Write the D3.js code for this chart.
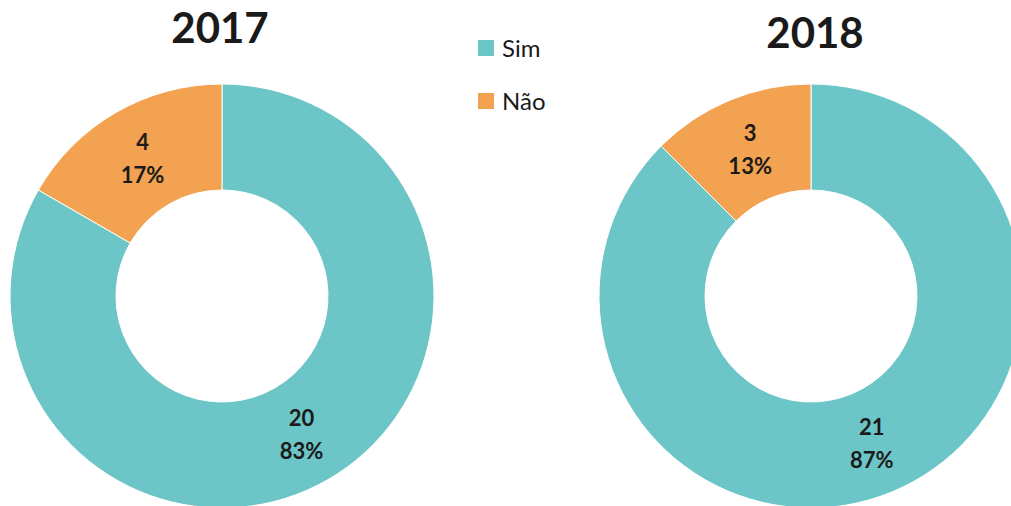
<!DOCTYPE html>
<html>
<head>
<meta charset="utf-8">
<script src="https://cdn.jsdelivr.net/npm/d3@7"></script>
<style>
  body { margin: 0; background: #fff; }
  svg { display: block; font-family: Lato, "Open Sans", sans-serif; }
</style>
</head>
<body>
<svg id="chart" width="1011" height="506"></svg>
<script>
const categories = ["Sim", "Não"];
const colors = ["#6cc5c6", "#f2a250"];
const years = ["2017", "2018"];
const values2017 = [20, 4];
const values2018 = [21, 3];
// percentages as printed on the chart
const pct2017 = ["83%", "17%"];
const pct2018 = ["87%", "13%"];

const svg = d3.select("#chart");
const outerR = 212, innerR = 106;
const charts = [
  { title: years[0], values: values2017, pct: pct2017, cx: 222, cy: 296, tx: 220, ty: 43 },
  { title: years[1], values: values2018, pct: pct2018, cx: 811, cy: 296, tx: 815, ty: 48 }
];

const pie = d3.pie().sort(null).value(d => d);
const arc = d3.arc().innerRadius(innerR).outerRadius(outerR);

charts.forEach(c => {
  const g = svg.append("g").attr("transform", `translate(${c.cx}, ${c.cy})`);
  const arcs = pie(c.values);

  g.selectAll("path")
    .data(arcs)
    .enter()
      .append("path")
      .attr("d", arc)
      .attr("fill", (d, i) => colors[i])
      .attr("stroke", "#fff")
      .attr("stroke-width", 1);

  const labels = g.selectAll(".lbl")
    .data(arcs)
    .enter()
      .append("text")
      .attr("class", "lbl")
      .attr("transform", d => `translate(${arc.centroid(d)})`)
      .attr("text-anchor", "middle")
      .attr("font-size", 22)
      .attr("font-weight", "bold")
      .attr("fill", "#1a1a1a");
  labels.append("tspan").attr("x", 0).attr("y", -8).text(d => d.data);
  labels.append("tspan").attr("x", 0).attr("y", 25).text((d, i) => c.pct[i]);

  svg.append("text")
    .attr("x", c.tx)
    .attr("y", c.ty)
    .attr("text-anchor", "middle")
    .attr("font-size", 42)
    .attr("font-weight", "bold")
    .attr("fill", "#1a1a1a")
    .text(c.title);
});

// legend
const legend = svg.append("g").attr("transform", "translate(478, 40)");
categories.forEach((name, i) => {
  const row = legend.append("g").attr("transform", `translate(0, ${i * 53})`);
  row.append("rect").attr("width", 16).attr("height", 16).attr("fill", colors[i]);
  row.append("text")
    .attr("x", 24)
    .attr("y", 17)
    .attr("font-size", 24)
    .attr("fill", "#1a1a1a")
    .text(name);
});
</script>
</body>
</html>
